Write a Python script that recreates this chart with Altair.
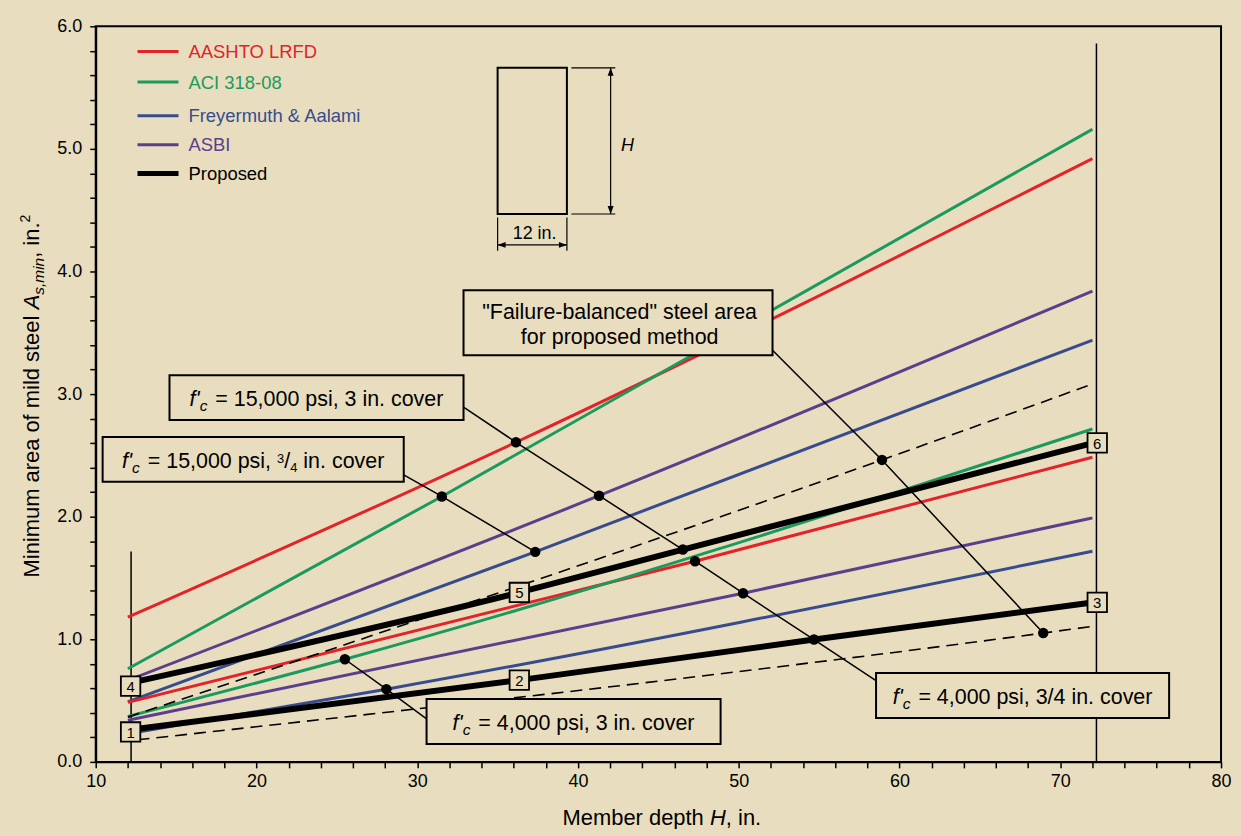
import altair as alt
import pandas as pd

# ---------------- data ----------------
aashto_hi_x = [12.0, 36.14, 72.0]
aashto_hi_y = [1.18, 2.607, 4.92]
aci_hi_x = [12.0, 31.53, 72.0]
aci_hi_y = [0.76, 2.165, 5.16]
frey_hi_x = [12.0, 37.34, 72.0]
frey_hi_y = [0.49, 1.713, 3.44]
asbi_hi_x = [12.0, 41.31, 72.0]
asbi_hi_y = [0.665, 2.171, 3.84]
prop_hi_x = [12.0, 36.35, 46.52, 72.0]
prop_hi_y = [0.64, 1.382, 1.732, 2.60]
bal_hi_x = [12.0, 58.91, 71.7]
bal_hi_y = [0.365, 2.463, 3.068]

aashto_lo_x = [12.0, 47.28, 72.0]
aashto_lo_y = [0.485, 1.637, 2.485]
aci_lo_x = [12.0, 25.5, 72.0]
aci_lo_y = [0.37, 0.837, 2.715]
asbi_lo_x = [12.0, 50.27, 72.0]
asbi_lo_y = [0.34, 1.376, 1.99]
frey_lo_x = [12.0, 28.08, 72.0]
frey_lo_y = [0.23, 0.593, 1.718]
prop_lo_x = [12.0, 36.35, 54.68, 72.0]
prop_lo_y = [0.26, 0.667, 0.998, 1.30]
bal_lo_x = [12.6, 68.94, 72.0]
bal_lo_y = [0.18, 1.051, 1.105]

# leader lines (box anchor + marked points)
lead_a_x = [32.88, 36.14, 41.31, 46.52]
lead_a_y = [2.894, 2.607, 2.171, 1.732]
lead_b_x = [29.16, 31.53, 37.34]
lead_b_y = [2.341, 2.165, 1.713]
lead_c_x = [25.5, 28.08, 30.58]
lead_c_y = [0.837, 0.593, 0.350]
lead_d_x = [47.28, 50.27, 54.68, 58.56]
lead_d_y = [1.637, 1.376, 0.998, 0.661]
lead_e_x = [52.10, 58.91, 68.94]
lead_e_y = [3.358, 2.463, 1.051]

dot_x = [36.14, 41.31, 46.52, 31.53, 37.34, 25.5, 28.08, 47.28, 50.27, 54.68, 58.91, 68.94]
dot_y = [2.607, 2.171, 1.732, 2.165, 1.713, 0.837, 0.593, 1.637, 1.376, 0.998, 2.463, 1.051]

# numbered boxes
num_x = [12.17, 36.35, 72.3, 12.17, 36.35, 72.3]
num_y = [0.244, 0.667, 1.301, 0.618, 1.382, 2.602]
num_t = ["1", "2", "3", "4", "5", "6"]

# vertical reference lines
vline_x = [12.2, 72.25]
vline_top = [1.715, 5.86]

# callout boxes
box_x1 = [14.59, 10.43, 30.58, 58.54, 32.88]
box_x2 = [32.88, 29.16, 48.87, 76.77, 52.10]
box_y1 = [2.789, 2.285, 0.146, 0.358, 3.317]
box_y2 = [3.154, 2.650, 0.512, 0.724, 3.846]

# legend
leg_labels = ["AASHTO LRFD", "ACI 318-08", "Freyermuth & Aalami", "ASBI", "Proposed"]
leg_y = [5.794, 5.545, 5.271, 5.033, 4.799]

# section sketch
sec_x = [35.0, 39.31]
sec_y = [4.469, 5.661]

x_ticks = list(range(10, 81, 2))
y_ticks = [round(i * 0.2, 1) for i in range(31)]

# ---------------- style ----------------
FONT = "Liberation Sans"
BG = "#E8DDBE"
RED = "#E2232A"
GREEN = "#1B9A5E"
BLUE = "#374C8E"
PURPLE = "#5C3F8C"
leg_colors = [RED, GREEN, BLUE, PURPLE, "black"]
leg_widths = [3, 3, 3, 3, 5]

# page background (beige right to the window edge)
try:
    import altair.utils.html as _h
    _orig_tpl = _h.TEMPLATES["standard"]

    class _BgTemplate:
        def render(self, *a, **k):
            out = _orig_tpl.render(*a, **k)
            css = "<style>html,body{background:%s;}</style>" % BG
            if "<head>" in out:
                return out.replace("<head>", "<head>" + css, 1)
            return css + out

    _h.TEMPLATES["standard"] = _BgTemplate()
except Exception:
    pass

W = {' ': 278, '!': 278, '"': 355, "'": 191, ',': 278, '-': 333, '.': 278, '/': 278, '=': 584,
     '&': 667, 'A': 667, 'B': 667, 'C': 722, 'D': 722, 'E': 667, 'F': 611, 'H': 722, 'I': 278,
     'L': 556, 'M': 833, 'O': 778, 'R': 722, 'S': 667, 'T': 611, 'a': 556, 'b': 556, 'c': 500,
     'd': 556, 'e': 556, 'f': 278, 'g': 556, 'h': 556, 'i': 222, 'l': 222, 'm': 833, 'n': 556,
     'o': 556, 'p': 556, 'r': 333, 's': 500, 't': 278, 'u': 556, 'v': 500, 'y': 500}


def tw(s, size):
    return sum(W.get(c, 556) for c in s) * size / 1000.0


xscale = alt.Scale(domain=[10, 80], nice=False, zero=False)
yscale = alt.Scale(domain=[0, 6], nice=False)
xaxis = alt.Axis(values=x_ticks, format="d",
                 labelExpr="datum.value % 10 == 0 ? datum.label : ''",
                 title=None, grid=False, tickSize=6, tickWidth=1.5, tickColor="black",
                 domainColor="black", domainWidth=2, labelFont=FONT, labelFontSize=18,
                 labelColor="black", labelPadding=5, labelOverlap=False, labelFlush=False)
yaxis = alt.Axis(values=y_ticks, format=".1f",
                 labelExpr="abs(datum.value - round(datum.value)) < 0.01 ? datum.label : ''",
                 title=None, grid=False, tickSize=6, tickWidth=1.5, tickColor="black",
                 domainColor="black", domainWidth=2, labelFont=FONT, labelFontSize=18,
                 labelColor="black", labelPadding=8, labelOverlap=False, labelFlush=False)
X = alt.X("x:Q", scale=xscale, axis=xaxis)
Y = alt.Y("y:Q", scale=yscale, axis=yaxis)


def dfxy(xs, ys):
    return pd.DataFrame({"x": xs, "y": ys, "o": list(range(len(xs)))})


layers = []

# vertical reference lines
layers.append(alt.Chart(pd.DataFrame({"x": vline_x, "y": [0, 0], "y2": vline_top}))
              .mark_rule(color="black", strokeWidth=1.5)
              .encode(x=X, y=Y, y2="y2:Q"))

series = [
    (aashto_hi_x, aashto_hi_y, RED, 3, False),
    (aci_hi_x, aci_hi_y, GREEN, 3, False),
    (asbi_hi_x, asbi_hi_y, PURPLE, 3, False),
    (frey_hi_x, frey_hi_y, BLUE, 3, False),
    (aashto_lo_x, aashto_lo_y, RED, 3, False),
    (aci_lo_x, aci_lo_y, GREEN, 3, False),
    (asbi_lo_x, asbi_lo_y, PURPLE, 3, False),
    (frey_lo_x, frey_lo_y, BLUE, 3, False),
    (bal_hi_x, bal_hi_y, "black", 1.6, True),
    (bal_lo_x, bal_lo_y, "black", 1.6, True),
    (prop_hi_x, prop_hi_y, "black", 6, False),
    (prop_lo_x, prop_lo_y, "black", 6, False),
]
for xs, ys, c, w, dash in series:
    kw = dict(color=c, strokeWidth=w, interpolate="monotone")
    if dash:
        kw["strokeDash"] = [12, 7]
    layers.append(alt.Chart(dfxy(xs, ys)).mark_line(**kw).encode(x=X, y=Y, order="o:Q"))

# leader lines
for xs, ys in [(lead_a_x, lead_a_y), (lead_b_x, lead_b_y), (lead_c_x, lead_c_y),
               (lead_d_x, lead_d_y), (lead_e_x, lead_e_y)]:
    layers.append(alt.Chart(dfxy(xs, ys)).mark_line(color="black", strokeWidth=1.5)
                  .encode(x=X, y=Y, order="o:Q"))

# dots
layers.append(alt.Chart(dfxy(dot_x, dot_y)).mark_circle(size=110, color="black", opacity=1)
              .encode(x=X, y=Y))

# callout boxes
layers.append(alt.Chart(pd.DataFrame({"x": box_x1, "x2": box_x2, "y": box_y1, "y2": box_y2}))
              .mark_rect(fill=BG, stroke="black", strokeWidth=2)
              .encode(x=X, x2="x2:Q", y=Y, y2="y2:Q"))

# numbered boxes
num_df = pd.DataFrame({"x": num_x, "y": num_y, "t": num_t})
layers.append(alt.Chart(num_df).mark_point(shape="square", size=380, filled=True, fill=BG,
                                           stroke="black", strokeWidth=1.8, opacity=1)
              .encode(x=X, y=Y))
layers.append(alt.Chart(num_df).mark_text(font=FONT, fontSize=15, color="black",
                                          baseline="middle", align="center", dy=1)
              .encode(x=X, y=Y, text="t:N"))


def text_data(xv, yv, s, size, style="normal", align="left", dx=0.0, dy=0.0, color="black"):
    return (alt.Chart(pd.DataFrame({"x": [xv], "y": [yv], "t": [s]}))
            .mark_text(align=align, baseline="alphabetic", dx=dx, dy=dy, fontSize=size,
                       fontStyle=style, font=FONT, color=color)
            .encode(x=X, y=Y, text="t:N"))


def seg_width(t, s, extra):
    return tw(t, s) + extra


def compose_data(xc, yc, segs, base_dy):
    # segs: (text, size, style, dy, extra gap after)
    total = sum(seg_width(t, s, e) for t, s, _, _, e in segs)
    cur = -total / 2.0
    out = []
    for t, s, st, d, e in segs:
        lead = len(t) - len(t.lstrip(" "))
        out.append(text_data(xc, yc, t.strip(" "), s, st, "left", cur + tw(" " * lead, s),
                             base_dy + d))
        cur += seg_width(t, s, e)
    return out


CS = 21.5
SUB = 15.5
callouts = [
    [("f'", CS, "italic", 0, 0), ("c", SUB, "italic", 5, 2),
     (" = 15,000 psi, 3 in. cover", CS, "normal", 0, 0)],
    [("f'", CS, "italic", 0, 0), ("c", SUB, "italic", 5, 2), (" = 15,000 psi, ", CS, "normal", 0, 0),
     ("3", 13, "normal", -5, 0), ("/", CS, "normal", 0, 0), ("4", 13, "normal", 4, 0),
     (" in. cover", CS, "normal", 0, 0)],
    [("f'", CS, "italic", 0, 0), ("c", SUB, "italic", 5, 2),
     (" = 4,000 psi, 3 in. cover", CS, "normal", 0, 0)],
    [("f'", CS, "italic", 0, 0), ("c", SUB, "italic", 5, 2),
     (" = 4,000 psi, 3/4 in. cover", CS, "normal", 0, 0)],
]
for i, segs in enumerate(callouts):
    xc = (box_x1[i] + box_x2[i]) / 2
    yc = (box_y1[i] + box_y2[i]) / 2
    layers += compose_data(xc, yc, segs, 8.5)

xe = (box_x1[4] + box_x2[4]) / 2 + 0.1
ye = (box_y1[4] + box_y2[4]) / 2
layers.append(text_data(xe, ye, "\"Failure-balanced\" steel area", CS, align="center", dy=-4))
layers.append(text_data(xe, ye, "for proposed method", CS, align="center", dy=21.5))

# legend
leg_df = pd.DataFrame({"x": [12.6] * 5, "x2": [15.15] * 5, "y": leg_y, "c": leg_colors,
                       "w": leg_widths, "t": leg_labels})
layers.append(alt.Chart(leg_df).mark_rule()
              .encode(x=X, x2="x2:Q", y=Y, color=alt.Color("c:N", scale=None),
                      strokeWidth=alt.StrokeWidth("w:Q", scale=None)))
layers.append(alt.Chart(leg_df.assign(x=15.77)).mark_text(font=FONT, fontSize=18.5, align="left",
                                                          baseline="alphabetic", dy=6.5)
              .encode(x=X, y=Y, text="t:N", color=alt.Color("c:N", scale=None)))

# section sketch
layers.append(alt.Chart(pd.DataFrame({"x": [sec_x[0]], "x2": [sec_x[1]], "y": [sec_y[0]], "y2": [sec_y[1]]}))
              .mark_rect(fillOpacity=0, stroke="black", strokeWidth=2)
              .encode(x=X, x2="x2:Q", y=Y, y2="y2:Q"))
dim_df = pd.DataFrame({
    "x":  [39.59, 39.59, 42.03, sec_x[0], sec_x[1], sec_x[0]],
    "x2": [42.32, 42.32, 42.03, sec_x[0], sec_x[1], sec_x[1]],
    "y":  [sec_y[1], sec_y[0], sec_y[0], 4.44, 4.44, 4.217],
    "y2": [sec_y[1], sec_y[0], sec_y[1], 4.17, 4.17, 4.217],
})
layers.append(alt.Chart(dim_df).mark_rule(color="black", strokeWidth=1.2)
              .encode(x=X, x2="x2:Q", y=Y, y2="y2:Q"))
arrows = [
    (42.03, sec_y[1], "M0,0L0.75,2L-0.75,2Z"),
    (42.03, sec_y[0], "M0,0L0.75,-2L-0.75,-2Z"),
    (sec_x[0], 4.217, "M0,0L2,0.75L2,-0.75Z"),
    (sec_x[1], 4.217, "M0,0L-2,0.75L-2,-0.75Z"),
]
for ax_, ay_, shp in arrows:
    layers.append(alt.Chart(dfxy([ax_], [ay_])).mark_point(shape=shp, size=64, filled=True,
                                                          color="black", opacity=1)
                  .encode(x=X, y=Y))
layers.append(text_data(37.3, 4.266, "12 in.", 18, align="center"))
layers.append(text_data(42.67, 4.984, "H", 18, style="italic", align="left"))


# axis titles (composed in pixels, outside the plot area)
def text_px(px, py, s, size, style, dx, dy, angle):
    return (alt.Chart(pd.DataFrame({"t": [s]}))
            .mark_text(align="left", baseline="alphabetic", dx=dx, dy=dy, fontSize=size,
                       fontStyle=style, font=FONT, color="black", angle=angle)
            .encode(x=alt.value(px), y=alt.value(py), text="t:N"))


def compose_px(px, py, segs, angle):
    total = sum(tw(t, s) for t, s, _, _ in segs)
    cur = -total / 2
    out = []
    for t, s, st, d in segs:
        lead = len(t) - len(t.lstrip(" "))
        out.append(text_px(px, py, t.strip(" "), s, st, cur + tw(" " * lead, s), d, angle))
        cur += tw(t, s)
    return out


TS = 22
layers += compose_px(568, 801, [("Member depth ", TS, "normal", 0), ("H", TS, "italic", 0),
                                (", in.", TS, "normal", 0)], 0)
layers += compose_px(-57, 371, [("Minimum area of mild steel ", TS, "normal", 0),
                                ("A", TS, "italic", 0), ("s,min", 15.5, "italic", 5),
                                (", in.", TS, "normal", 0), ("2", 14, "normal", -9)], 270)

chart = alt.layer(*layers).properties(
    width=1129, height=738, background=BG,
    padding={"left": 88, "top": 17, "right": 12, "bottom": 66},
    autosize=alt.AutoSizeParams(type="none"),
).configure_view(stroke="black", strokeWidth=2)

chart.save("out.html", embed_options={"renderer": "svg", "actions": False})
